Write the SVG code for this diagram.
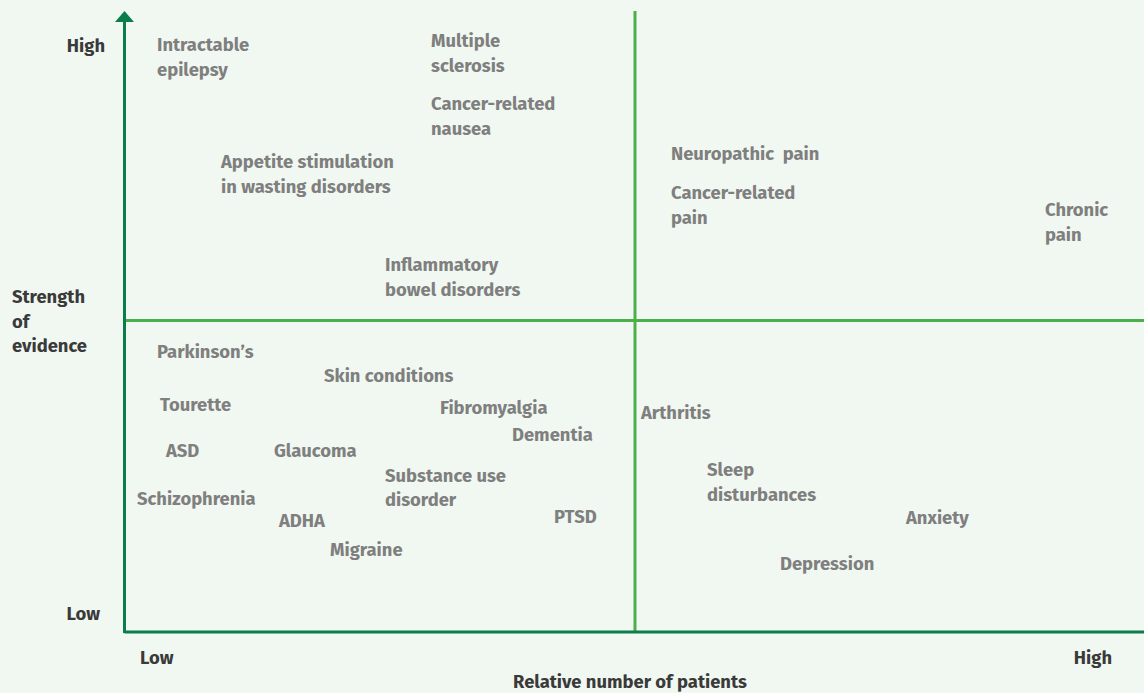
<svg xmlns="http://www.w3.org/2000/svg" width="1144" height="693" viewBox="0 0 1144 693">
<style>
.lbl{font-family:"Fira Sans","Lato","Open Sans",sans-serif;font-weight:700;font-size:18.4px;fill:#7f7f7f}
.ax{font-family:"Fira Sans","Lato","Open Sans",sans-serif;font-weight:700;font-size:18.4px;fill:#3a3a3a}
.axis{stroke:#0b7d4b;stroke-width:3;fill:none}
.quad{stroke:#4cb04a;stroke-width:3;fill:none}
</style>
<rect width="1144" height="693" fill="#f1f8f1"/>
<g id="connectors">
<line class="quad" x1="635" y1="11" x2="635" y2="632"/>
<line class="quad" x1="124" y1="320.5" x2="1144" y2="320.5"/>
<line class="axis" x1="124.5" y1="632" x2="1144" y2="632"/>
<line class="axis" x1="124.5" y1="633" x2="124.5" y2="22"/>
<path d="M115,22 L124.5,11 L134,22 Z" fill="#0b7d4b"/>
</g>
<g id="axis-labels">
<text class="ax" x="105" y="52" text-anchor="end">High</text>
<text class="ax" x="100" y="620" text-anchor="end">Low</text>
<text class="ax" x="12" y="303">Strength</text>
<text class="ax" x="12" y="328">of</text>
<text class="ax" x="12" y="352">evidence</text>
<text class="ax" x="140" y="664">Low</text>
<text class="ax" x="1112" y="664" text-anchor="end">High</text>
<text class="ax" x="630" y="688" text-anchor="middle">Relative number of patients</text>
</g>
<g id="n-epilepsy"><text class="lbl" x="157" y="51">Intractable</text><text class="lbl" x="157" y="76">epilepsy</text></g>
<g id="n-ms"><text class="lbl" x="431" y="47">Multiple</text><text class="lbl" x="431" y="72">sclerosis</text></g>
<g id="n-nausea"><text class="lbl" x="431" y="110">Cancer-related</text><text class="lbl" x="431" y="135">nausea</text></g>
<g id="n-appetite"><text class="lbl" x="221" y="168">Appetite stimulation</text><text class="lbl" x="221" y="193">in wasting disorders</text></g>
<g id="n-ibd"><text class="lbl" x="385" y="271">Inflammatory</text><text class="lbl" x="385" y="296">bowel disorders</text></g>
<g id="n-neuropathic"><text class="lbl" x="671" y="160" xml:space="preserve">Neuropathic  pain</text></g>
<g id="n-cancerpain"><text class="lbl" x="671" y="199">Cancer-related</text><text class="lbl" x="671" y="224">pain</text></g>
<g id="n-chronic"><text class="lbl" x="1045" y="216">Chronic</text><text class="lbl" x="1045" y="241">pain</text></g>
<g id="n-parkinsons"><text class="lbl" x="157" y="358">Parkinson’s</text></g>
<g id="n-skin"><text class="lbl" x="324" y="382">Skin conditions</text></g>
<g id="n-tourette"><text class="lbl" x="160" y="411">Tourette</text></g>
<g id="n-fibro"><text class="lbl" x="440" y="414">Fibromyalgia</text></g>
<g id="n-dementia"><text class="lbl" x="512" y="441">Dementia</text></g>
<g id="n-arthritis"><text class="lbl" x="641" y="419">Arthritis</text></g>
<g id="n-asd"><text class="lbl" x="166" y="457">ASD</text></g>
<g id="n-glaucoma"><text class="lbl" x="274" y="457">Glaucoma</text></g>
<g id="n-substance"><text class="lbl" x="385" y="482">Substance use</text><text class="lbl" x="385" y="506">disorder</text></g>
<g id="n-schizo"><text class="lbl" x="137" y="505">Schizophrenia</text></g>
<g id="n-adha"><text class="lbl" x="279" y="527">ADHA</text></g>
<g id="n-ptsd"><text class="lbl" x="554" y="523">PTSD</text></g>
<g id="n-migraine"><text class="lbl" x="330" y="556">Migraine</text></g>
<g id="n-sleep"><text class="lbl" x="707" y="476">Sleep</text><text class="lbl" x="707" y="501">disturbances</text></g>
<g id="n-anxiety"><text class="lbl" x="906" y="524">Anxiety</text></g>
<g id="n-depression"><text class="lbl" x="780" y="570">Depression</text></g>
</svg>
